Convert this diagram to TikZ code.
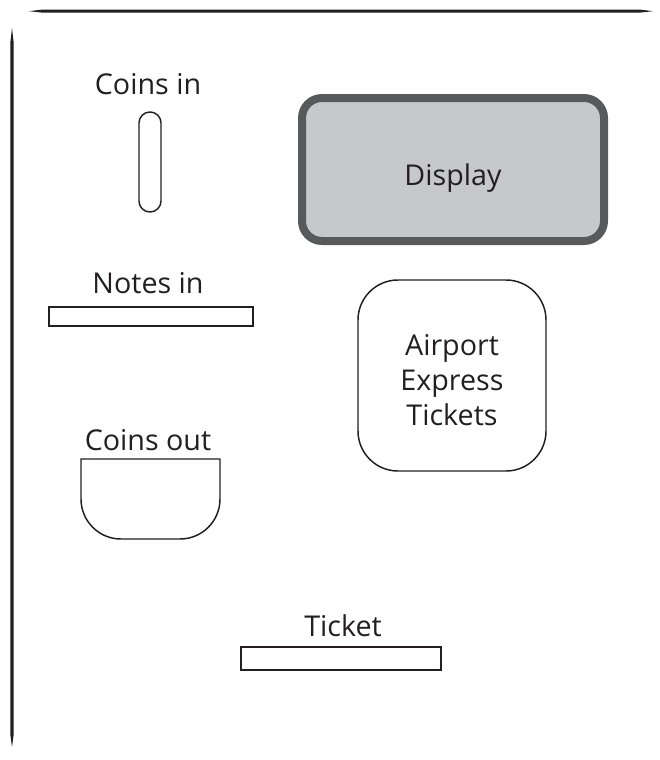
\documentclass[tikz,border=0pt]{standalone}
\usepackage{fontspec}
\setmainfont{Open Sans}
\definecolor{ink}{HTML}{231F20}
\definecolor{dispedge}{HTML}{58595B}
\definecolor{dispfill}{HTML}{C7C8CA}
\begin{document}
\begin{tikzpicture}[x=0.75pt,y=-0.75pt,
  lbl/.style={text=ink,font=\fontsize{21.5pt}{26pt}\selectfont,inner sep=0pt},
  slot/.style={draw=ink,line width=1.3pt},
  panel/.style={draw=ink,line width=1.1pt}]
\useasboundingbox (0,0) rectangle (660,760);
% brush-like border strokes
\fill[ink] (29,11.2) -- (42,9.6) -- (640,9.6) -- (653,11.2) -- (640,12.6) -- (42,12.6) -- cycle;
\fill[ink] (12,28) -- (13.6,42) -- (13.6,735) -- (12,747) -- (10.4,735) -- (10.4,42) -- cycle;
% coins in
\node[lbl] (coinsinlbl) at (148,84) {Coins in};
\draw[panel,rounded corners=8.2pt] (139,112) rectangle (161,212);
% display
\draw[draw=dispedge,fill=dispfill,line width=6pt,rounded corners=15pt] (302,98) rectangle (604,241);
\node[lbl] (display) at (453,178) {Display};
% notes in
\node[lbl] (notesinlbl) at (148,283) {Notes in};
\draw[slot] (49,307) rectangle (253,326);
% airport express tickets
\draw[panel,rounded corners=30pt] (358,280) rectangle (546,471);
\node[lbl,align=center] (airport) at (452,380) {Airport\\Express\\Tickets};
% coins out
\node[lbl] (coinsoutlbl) at (148,440) {Coins out};
\draw[panel] (81,459) -- (220,459) -- (220,499)
  .. controls (220,521.1) and (202.1,539) .. (180,539) -- (121,539)
  .. controls (98.9,539) and (81,521.1) .. (81,499) -- cycle;
% ticket
\node[lbl] (ticketlbl) at (343,626) {Ticket};
\draw[slot] (241,647) rectangle (441,670);
\end{tikzpicture}
\end{document}
